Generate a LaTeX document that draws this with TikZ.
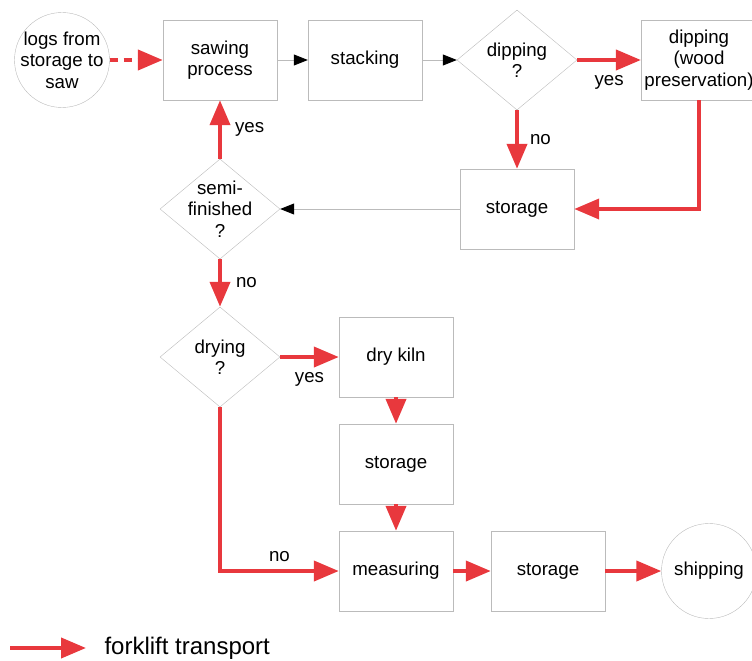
\documentclass[tikz,border=0pt]{standalone}
\usepackage{fontspec}
\setmainfont{Liberation Sans}
\usetikzlibrary{shapes.geometric,arrows.meta}
\definecolor{forklift}{HTML}{E8383D}
\definecolor{outline}{HTML}{BBBBBB}
\tikzset{
  BoxStyle/.style = { rectangle, draw = outline, minimum width = 114pt,
                      minimum height = 80pt, align = center },
  DecisionStyle/.style = { diamond, draw = outline, minimum width = 120pt,
                      minimum height = 100pt, inner sep = -6pt,
                      align = center },
  TerminalStyle/.style = { circle, draw = outline, minimum size = 95pt,
                      inner sep = -8pt, align = center },
  LabelStyle/.style = { inner sep = 4pt, text = black },
  EdgeStyle/.style = { -{Triangle[length=25pt, width=20pt]},
                       line width = 4pt, forklift },
  FlowStyle/.style = { -{Triangle[length=14pt, width=11pt, color=black]},
                       line width = 0.8pt, outline } }

\begin{document}
\begin{tikzpicture}[x=1pt, y=-1pt, font=\fontsize{18.7}{21.5}\selectfont]
  \useasboundingbox (0,0) rectangle (752,661);

  \node[TerminalStyle] (logs) at (62,60) {logs from\\storage to\\saw};
  \node[BoxStyle] (saw) at (220,60) {sawing\\process};
  \node[BoxStyle] (stack) at (365,60) {stacking};
  \node[DecisionStyle] (dipq) at (517,60) {dipping\\?};
  \node[BoxStyle] (dip) at (699,60) {dipping\\(wood\\preservation)};

  \node[BoxStyle] (st1) at (517,209) {storage};
  \node[DecisionStyle] (semiq) at (220,209) {semi-\\finished\\?};
  \node[DecisionStyle] (dryq) at (220,357) {drying\\?};
  \node[BoxStyle] (kiln) at (396,357) {dry kiln};
  \node[BoxStyle] (st2) at (396,464) {storage};

  \node[BoxStyle] (meas) at (396,571) {measuring};
  \node[BoxStyle] (st3) at (548,571) {storage};
  \node[TerminalStyle] (ship) at (709,571) {shipping};

  \draw[FlowStyle] (saw) -- (stack);
  \draw[FlowStyle] (stack) -- (dipq);
  \draw[FlowStyle] (st1) -- (semiq);

  \draw[EdgeStyle, dash pattern=on 8pt off 6pt] (logs) -- (saw);
  \draw[EdgeStyle] (dipq) -- node[LabelStyle, below=9pt] {yes} (dip);
  \draw[EdgeStyle] (dipq) -- node[LabelStyle, right=7pt] {no} (st1);
  \draw[EdgeStyle] (dip.south) |- (st1.east);
  \draw[EdgeStyle] (semiq) -- node[LabelStyle, right=9pt] {yes} (saw);
  \draw[EdgeStyle] (semiq) -- node[LabelStyle, right=10pt] {no} (dryq);
  \draw[EdgeStyle] (dryq) -- node[LabelStyle, below=9pt] {yes} (kiln);
  \draw[EdgeStyle] (kiln) -- (st2);
  \draw[EdgeStyle] (st2) -- (meas);
  \draw[EdgeStyle] (dryq.south) |- node[LabelStyle, pos=0.75, above=3pt] {no} (meas.west);
  \draw[EdgeStyle] (meas) -- (st3);
  \draw[EdgeStyle] (st3) -- (ship);

  \coordinate (legA) at (10,648);
  \coordinate (legB) at (86,648);
  \draw[EdgeStyle] (legA) -- (legB);
  \node[anchor=west, font=\fontsize{24}{28}\selectfont] (legend) at (101,648) {forklift transport};
\end{tikzpicture}
\end{document}
